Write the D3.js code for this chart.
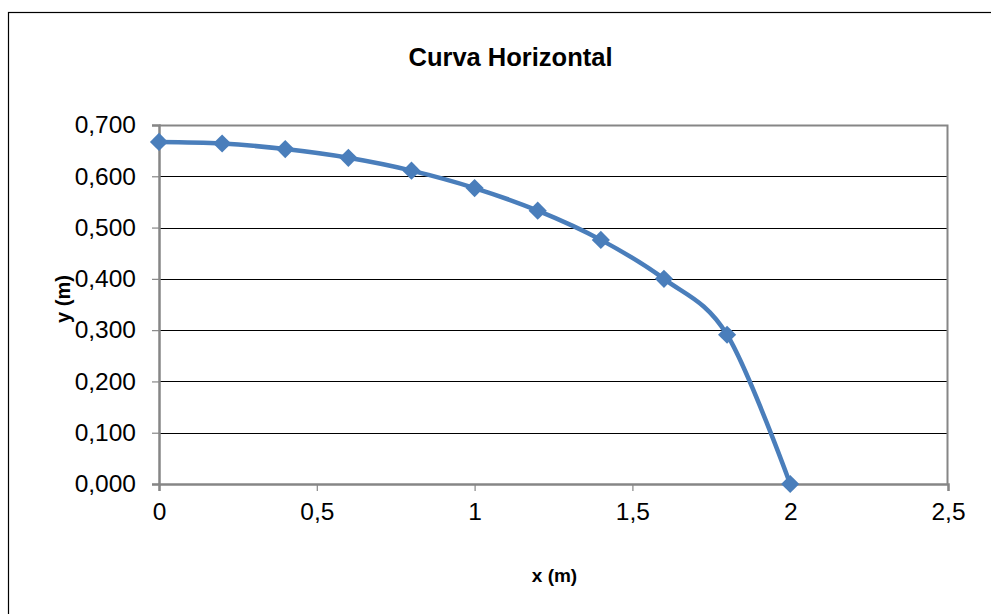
<!DOCTYPE html>
<html>
<head>
<meta charset="utf-8">
<script src="https://cdn.jsdelivr.net/npm/d3@7"></script>
<style>
  html, body { margin: 0; padding: 0; background: #fff; }
  svg { display: block; font-family: "Liberation Sans", Arial, sans-serif; }
</style>
</head>
<body>
<svg id="chart" width="991" height="614"></svg>
<script>
// Horizontal curve profile: distance x (m) vs height y (m)
const xValues = [0, 0.2, 0.4, 0.6, 0.8, 1.0, 1.2, 1.4, 1.6, 1.8, 2.0];
const yValues = [0.667, 0.664, 0.653, 0.636, 0.611, 0.577, 0.533, 0.476, 0.400, 0.291, 0.000];
const xTicks = [0, 0.5, 1, 1.5, 2, 2.5];
const yTicks = [0, 0.1, 0.2, 0.3, 0.4, 0.5, 0.6, 0.7];

const title = "Curva Horizontal";
const xTitle = "x (m)";
const yTitle = "y (m)";

const svg = d3.select("#chart");
const plot = { left: 159, right: 948, top: 125, bottom: 484 };
const FONT = "'Liberation Sans', Arial, sans-serif";

// Outer chart frame (runs off the right and bottom edges)
svg.append("rect")
  .attr("x", 8.5).attr("y", 12.5)
  .attr("width", 1000).attr("height", 620)
  .attr("fill", "#fff").attr("stroke", "#000").attr("stroke-width", 1.2);

const x = d3.scaleLinear().domain([0, 2.5]).range([plot.left, plot.right]);
const y = d3.scaleLinear().domain([0, 0.7]).range([plot.bottom, plot.top]);

const fmtY = v => d3.format(".3f")(v).replace(".", ",");
const fmtX = v => String(v).replace(".", ",");

// Horizontal gridlines
svg.append("g")
  .selectAll("line")
  .data(yTicks.filter(v => v > 0 && v < 0.7))
  .join("line")
  .attr("x1", plot.left).attr("x2", plot.right)
  .attr("y1", d => Math.round(y(d)) + 0.5).attr("y2", d => Math.round(y(d)) + 0.5)
  .attr("stroke", "#000").attr("stroke-width", 1);

// Plot area border (top and right)
svg.append("path")
  .attr("d", `M${plot.left},${plot.top + 0.5}H${plot.right - 0.5}V${plot.bottom}`)
  .attr("fill", "none").attr("stroke", "#868686").attr("stroke-width", 2);

// Y axis
const yAxis = svg.append("g")
  .attr("transform", `translate(${plot.left},0)`)
  .call(d3.axisLeft(y).tickValues(yTicks).tickFormat(fmtY).tickSize(7).tickPadding(16));
yAxis.select(".domain").attr("stroke", "#868686").attr("stroke-width", 2.5);
yAxis.selectAll(".tick line").attr("stroke", "#868686").attr("stroke-width", 1.2);
yAxis.selectAll("text")
  .attr("font-size", 24.5).attr("fill", "#000").attr("font-family", FONT);

// X axis
const xAxis = svg.append("g")
  .attr("transform", `translate(0,${plot.bottom})`)
  .call(d3.axisBottom(x).tickValues(xTicks).tickFormat(fmtX).tickSize(7).tickPadding(12));
xAxis.select(".domain").attr("stroke", "#868686").attr("stroke-width", 2.5);
xAxis.selectAll(".tick line").attr("stroke", "#868686").attr("stroke-width", 1.2);
xAxis.selectAll("text")
  .attr("font-size", 24.5).attr("fill", "#000").attr("font-family", FONT);

// Smoothed series line
const points = xValues.map((v, i) => [v, yValues[i]]);
const line = d3.line()
  .x(d => x(d[0])).y(d => y(d[1]))
  .curve(d3.curveCardinal.tension(0));
svg.append("path")
  .datum(points)
  .attr("d", line)
  .attr("fill", "none")
  .attr("stroke", "#4A7EBB")
  .attr("stroke-width", 4.5)
  .attr("stroke-linejoin", "round");

// Diamond markers
svg.append("g")
  .selectAll("path")
  .data(points)
  .join("path")
  .attr("transform", d => `translate(${x(d[0])},${y(d[1])}) rotate(45)`)
  .attr("d", d3.symbol().type(d3.symbolSquare).size(165))
  .attr("fill", "#4A7EBB");

// Titles
svg.append("text")
  .attr("x", 510.5).attr("y", 66)
  .attr("text-anchor", "middle")
  .attr("font-size", 25.5).attr("font-weight", "bold").attr("font-family", FONT)
  .text(title);

svg.append("text")
  .attr("x", 554.5).attr("y", 582)
  .attr("text-anchor", "middle")
  .attr("font-size", 19).attr("font-weight", "bold").attr("font-family", FONT)
  .text(xTitle);

svg.append("text")
  .attr("transform", "translate(70,299) rotate(-90)")
  .attr("text-anchor", "middle")
  .attr("font-size", 20).attr("font-weight", "bold").attr("font-family", FONT)
  .text(yTitle);
</script>
</body>
</html>
